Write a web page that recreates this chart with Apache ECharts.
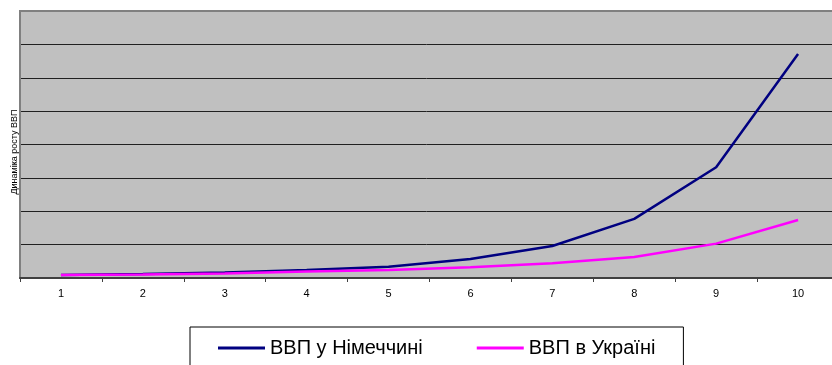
<!DOCTYPE html>
<html>
<head>
<meta charset="utf-8">
<script src="https://cdn.jsdelivr.net/npm/echarts@6/dist/echarts.min.js"></script>
<style>
html,body{margin:0;padding:0;background:#fff;}
#chart{width:832px;height:365px;}
</style>
</head>
<body>
<div id="chart"></div>
<script>
var categories = ['1','2','3','4','5','6','7','8','9','10'];
var germany = [90, 120, 165, 240, 340, 570, 960, 1770, 3320, 6710];
var ukraine = [90, 105, 135, 195, 240, 320, 440, 630, 1030, 1740];
var seriesNames = ['ВВП у Німеччині', 'ВВП в Україні'];
var yTitle = 'Динаміка росту ВВП';

var chart = echarts.init(document.getElementById('chart'), null, {renderer:'canvas'});
chart.setOption({
  animation: false,
  backgroundColor: '#ffffff',
  grid: {
    left: 20, top: 11, width: 819, height: 267,
    outerBoundsMode: 'none', containLabel: false,
    show: true, backgroundColor: '#C0C0C0', borderColor: '#808080', borderWidth: 2
  },
  xAxis: {
    type: 'category',
    data: categories,
    boundaryGap: true,
    axisLine: {lineStyle: {color: '#404040', width: 2}},
    axisTick: {show: true, length: 4, lineStyle: {color: '#404040', width: 1}},
    axisLabel: {color: '#000', fontFamily: 'Liberation Sans, Arial', fontSize: 11, margin: 10},
    splitLine: {show: false}
  },
  yAxis: {
    type: 'value',
    min: 0, max: 8000, interval: 1000,
    axisLine: {show: true, lineStyle: {color: '#808080', width: 2}},
    axisTick: {show: false},
    axisLabel: {show: false},
    splitLine: {show: true, showMaxLine: false, showMinLine: false, lineStyle: {color: '#202020', width: 1}}
  },
  legend: {
    left: 190, top: 327,
    padding: [11, 28, 20, 28],
    borderColor: '#000', borderWidth: 1,
    itemWidth: 47, itemHeight: 3, itemGap: 54,
    icon: 'rect',
    textStyle: {color: '#000', fontFamily: 'Liberation Sans, Arial', fontSize: 20},
    data: seriesNames
  },
  graphic: [{
    type: 'text',
    x: 15, y: 152,
    rotation: Math.PI / 2,
    style: {
      text: yTitle, fill: '#000',
      font: '9px "Liberation Sans", Arial',
      align: 'center', verticalAlign: 'middle'
    }
  }],
  series: [
    {
      name: seriesNames[0], type: 'line', data: germany,
      symbol: 'none', smooth: false,
      lineStyle: {color: '#000080', width: 2.5},
      itemStyle: {color: '#000080'}
    },
    {
      name: seriesNames[1], type: 'line', data: ukraine,
      symbol: 'none', smooth: false,
      lineStyle: {color: '#FF00FF', width: 2.5},
      itemStyle: {color: '#FF00FF'}
    }
  ]
});
</script>
</body>
</html>
